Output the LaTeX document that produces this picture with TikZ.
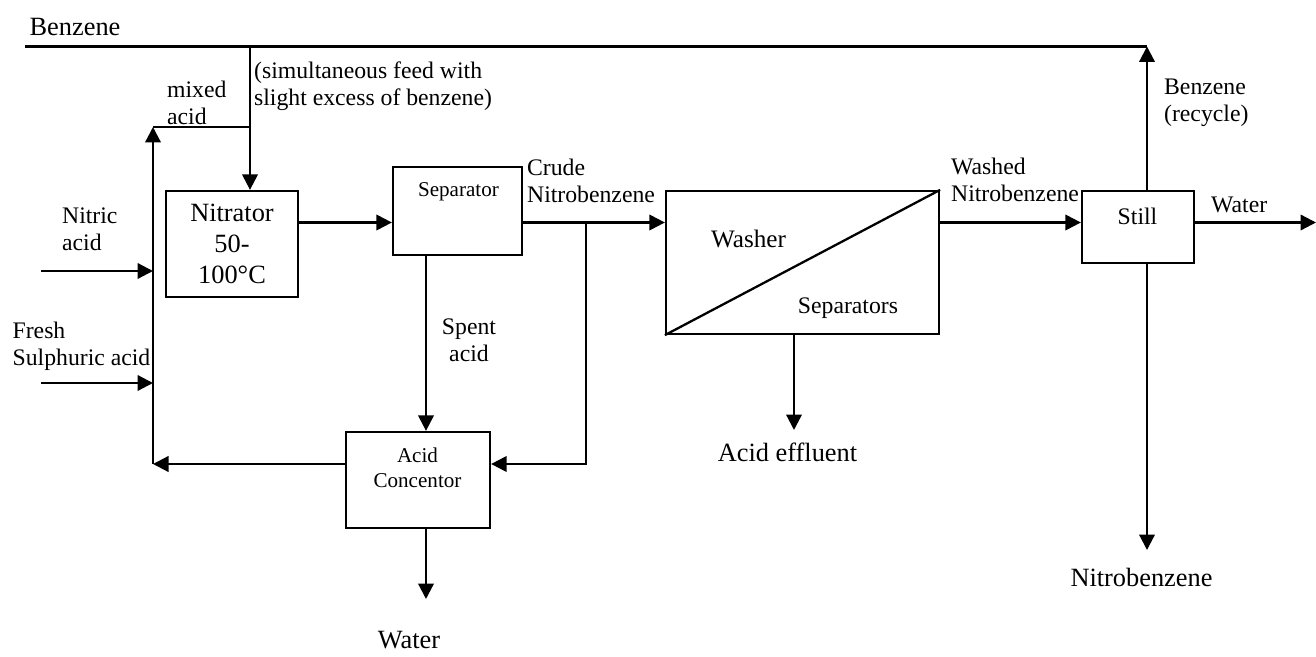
\documentclass[tikz,border=0pt]{standalone}
\usepackage{fontspec}
\setmainfont{Liberation Serif}
\usetikzlibrary{arrows.meta}
\begin{document}
\begin{tikzpicture}[line width=1.3pt,
  box/.style={draw,inner sep=0pt},
  flow/.style={-{Triangle[length=0.31cm,width=0.31cm]}},
  lbl/.style={inner sep=0pt,font=\fontsize{13.5}{15.4}\selectfont},
  big/.style={inner sep=0pt,font=\fontsize{15}{17.6}\selectfont},
  small/.style={inner sep=0pt,font=\fontsize{12}{14.2}\selectfont}]
  \useasboundingbox (0,0) rectangle (26.32,-13.14);
  % process units
  \node[box,big,align=center,minimum width=2.64cm,minimum height=2.12cm] (nitr) at (4.64,-4.88) {Nitrator\\50-\\100°C};
  \node[box,minimum width=2.58cm,minimum height=1.76cm] (sep) at (9.15,-4.22) {};
  \node[small] (septxt) at (9.17,-3.83) {Separator};
  \node[box,minimum width=5.46cm,minimum height=2.86cm] (wash) at (16.05,-5.25) {};
  \draw (wash.south west) -- (wash.north east);
  \node[lbl,font=\fontsize{14.3}{16}\selectfont] (washtxt) at (14.97,-4.78) {Washer};
  \node[lbl] (wsetxt) at (16.96,-6.17) {Separators};
  \node[box,minimum width=2.24cm,minimum height=1.44cm] (still) at (22.76,-4.54) {};
  \node[lbl] (stilltxt) at (22.75,-4.32) {Still};
  \node[box,minimum width=2.88cm,minimum height=1.92cm] (conc) at (8.36,-9.6) {};
  \node[small,align=center] (conctxt) at (8.35,-9.35) {Acid\\Concentor};
  % junctions and free ends
  \coordinate (bzL) at (0.5,-0.93);
  \coordinate (bzJ) at (5.0,-0.93);
  \coordinate (recT) at (22.94,-0.93);
  \coordinate (mixJ) at (5.0,-2.54);
  \coordinate (mixL) at (3.06,-2.54);
  \coordinate (retL) at (3.06,-9.28);
  \coordinate (crJ) at (11.72,-4.45);
  \coordinate (nitIn) at (0.82,-5.42);
  \coordinate (sulIn) at (0.82,-7.66);
  \coordinate (spX) at (8.52,0);
  \coordinate (effOut) at (15.88,-8.6);
  \coordinate (wOut) at (8.52,-11.98);
  \coordinate (nbOut) at (22.94,-11.0);
  \coordinate (wtrOut) at (26.32,-4.45);
  % streams
  \draw (bzL) -- (recT);
  \draw[flow] (bzJ) -- (nitr.north -| bzJ);
  \draw (mixL) -- (mixJ);
  \draw[flow] (retL) -- (mixL);
  \draw[flow] (nitIn) -- (nitIn -| retL);
  \draw[flow] (sulIn) -- (sulIn -| retL);
  \draw[flow] (conc.west |- retL) -- (retL);
  \draw[flow] (nitr.east |- crJ) -- (sep.west |- crJ);
  \draw[flow] (sep.east |- crJ) -- (wash.west |- crJ);
  \draw[flow] (crJ) |- (conc.east |- retL);
  \draw[flow] (sep.south -| spX) -- (conc.north -| spX);
  \draw[flow] (conc.south -| spX) -- (wOut);
  \draw[flow] (wash.south -| effOut) -- (effOut);
  \draw[flow] (wash.east |- crJ) -- (still.west |- crJ);
  \draw[flow] (still.east |- crJ) -- (wtrOut);
  \draw[flow] (still.north -| recT) -- (recT);
  \draw[flow] (still.south -| recT) -- (nbOut);
  % labels
  \node[big] (bzlbl) at (1.5,-0.54) {Benzene};
  \node[lbl,align=left,anchor=west] (mixlbl) at (3.32,-2.05) {mixed\\acid};
  \node[lbl,align=left,anchor=west] (feedlbl) at (5.06,-1.715) {(simultaneous feed with\\slight excess of benzene)};
  \node[lbl,align=left,anchor=west] (nitlbl) at (1.22,-4.58) {Nitric\\acid};
  \node[lbl,align=left,anchor=west] (sullbl) at (0.23,-6.92) {Fresh\\Sulphuric acid};
  \node[lbl,align=center] (spentlbl) at (9.38,-6.81) {Spent\\acid};
  \node[lbl,align=left,anchor=west] (crudelbl) at (10.52,-3.61) {Crude\\Nitrobenzene};
  \node[lbl,align=left,anchor=west] (washedlbl) at (19.0,-3.6) {Washed\\Nitrobenzene};
  \node[lbl,align=left,anchor=west] (reclbl) at (23.26,-2.05) {Benzene\\(recycle)};
  \node[lbl,anchor=west] (wtrlbl) at (24.2,-4.09) {Water};
  \node[big] (efflbl) at (15.75,-9.04) {Acid effluent};
  \node[big] (wlbl) at (8.18,-12.8) {Water};
  \node[big] (nblbl) at (22.83,-11.54) {Nitrobenzene};
\end{tikzpicture}
\end{document}
